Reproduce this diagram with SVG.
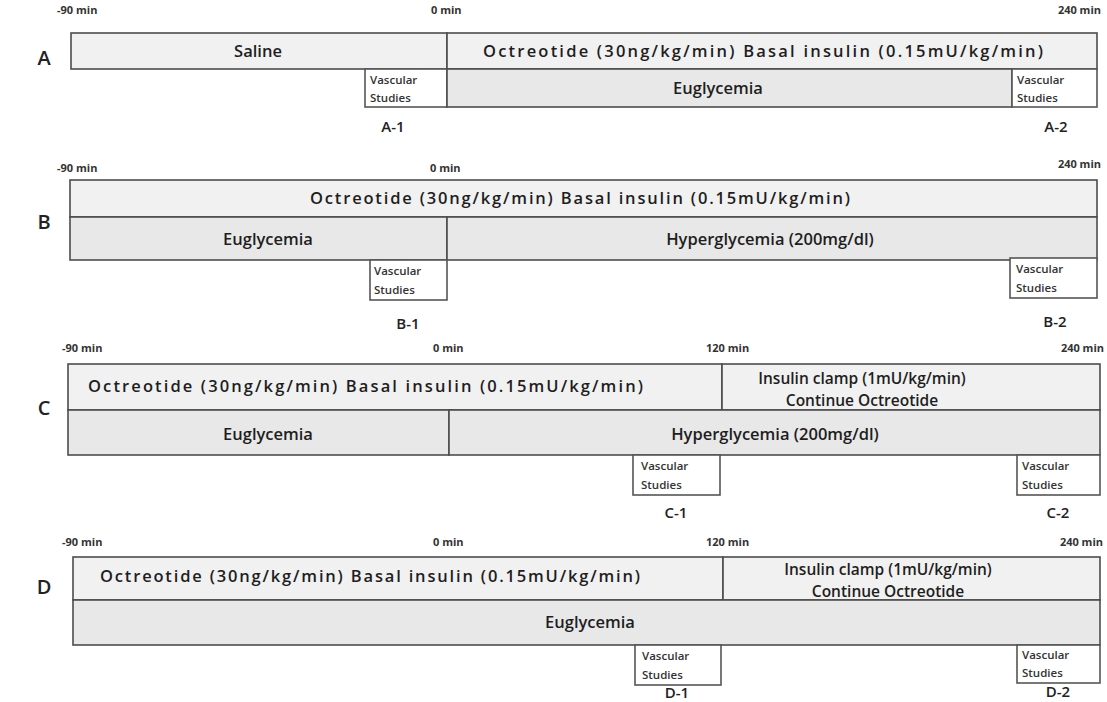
<svg xmlns="http://www.w3.org/2000/svg" width="1107" height="702" viewBox="0 0 1107 702">
<style>
.bg{fill:#ffffff}
.bar{fill:#f1f1f1;stroke:#4d4d4d;stroke-width:1.6}
.bar2{fill:#e8e8e8;stroke:#4d4d4d;stroke-width:1.6}
.vs{fill:#ffffff;stroke:#555555;stroke-width:1.6}
text{font-family:"Open Sans","Noto Sans","Liberation Sans",sans-serif;fill:#1e1e1e}
.tick{font-size:11px;font-weight:700;fill:#333}
.tickr{font-size:11px;font-weight:700;fill:#333;text-anchor:end}
.m{font-size:16.5px;font-weight:600;text-anchor:middle}
.c{font-size:15.5px;font-weight:600;text-anchor:middle}
.ml{font-size:16.5px;font-weight:600}
.v{font-size:11.5px;font-weight:600;fill:#333}
.id{font-size:15px;font-weight:600;text-anchor:middle;fill:#222}
.p{font-size:20px;font-weight:600;text-anchor:middle;fill:#222}
</style>
<rect class="bg" x="0" y="0" width="1107" height="702"/>

<!-- Panel A -->
<g id="panelA">
  <text class="p" x="44" y="65">A</text>
  <text class="tick" x="57" y="14">-90 min</text>
  <text class="tick" x="431" y="14">0 min</text>
  <text class="tickr" x="1101" y="14">240 min</text>
  <g id="A-saline">
    <rect class="bar" x="71" y="33" width="376" height="36"/>
    <text class="m" x="258" y="57">Saline</text>
  </g>
  <g id="A-octreotide">
    <rect class="bar" x="447" y="33" width="650" height="36"/>
    <text class="ml" x="483" y="57" textLength="560" lengthAdjust="spacing">Octreotide (30ng/kg/min)  Basal insulin (0.15mU/kg/min)</text>
  </g>
  <g id="A-vascular1">
    <rect class="vs" x="365" y="69" width="82" height="38"/>
    <text class="v" x="370" y="84">Vascular</text>
    <text class="v" x="370" y="102">Studies</text>
  </g>
  <g id="A-euglycemia">
    <rect class="bar2" x="447" y="69" width="565" height="38"/>
    <text class="m" x="718" y="94">Euglycemia</text>
  </g>
  <g id="A-vascular2">
    <rect class="vs" x="1012" y="69" width="85" height="38"/>
    <text class="v" x="1017" y="84">Vascular</text>
    <text class="v" x="1017" y="102">Studies</text>
  </g>
  <text class="id" x="393" y="132">A-1</text>
  <text class="id" x="1056" y="132">A-2</text>
</g>

<!-- Panel B -->
<g id="panelB">
  <text class="p" x="44" y="229">B</text>
  <text class="tick" x="57" y="172">-90 min</text>
  <text class="tick" x="430" y="172">0 min</text>
  <text class="tickr" x="1101" y="168">240 min</text>
  <g id="B-octreotide">
    <rect class="bar" x="70" y="180" width="1027" height="37"/>
    <text class="ml" x="310" y="204" textLength="540" lengthAdjust="spacing">Octreotide (30ng/kg/min)  Basal insulin (0.15mU/kg/min)</text>
  </g>
  <g id="B-euglycemia">
    <rect class="bar2" x="70" y="217" width="377" height="43"/>
    <text class="m" x="268" y="245">Euglycemia</text>
  </g>
  <g id="B-hyperglycemia">
    <rect class="bar2" x="447" y="217" width="650" height="43"/>
    <text class="m" x="770" y="245">Hyperglycemia (200mg/dl)</text>
  </g>
  <g id="B-vascular1">
    <rect class="vs" x="370" y="260" width="77" height="40"/>
    <text class="v" x="374" y="275">Vascular</text>
    <text class="v" x="374" y="294">Studies</text>
  </g>
  <g id="B-vascular2">
    <rect class="vs" x="1010" y="258" width="87" height="40"/>
    <text class="v" x="1016" y="273">Vascular</text>
    <text class="v" x="1016" y="292">Studies</text>
  </g>
  <text class="id" x="408" y="329">B-1</text>
  <text class="id" x="1055" y="327">B-2</text>
</g>

<!-- Panel C -->
<g id="panelC">
  <text class="p" x="44" y="415">C</text>
  <text class="tick" x="62" y="352">-90 min</text>
  <text class="tick" x="433" y="352">0 min</text>
  <text class="tick" x="706" y="352">120 min</text>
  <text class="tickr" x="1104" y="352">240 min</text>
  <g id="C-octreotide">
    <rect class="bar" x="68" y="364" width="654" height="46"/>
    <text class="ml" x="88" y="392" textLength="555" lengthAdjust="spacing">Octreotide (30ng/kg/min)  Basal insulin (0.15mU/kg/min)</text>
  </g>
  <g id="C-clamp">
    <rect class="bar" x="722" y="364" width="378" height="46"/>
    <text class="c" x="862" y="384">Insulin clamp (1mU/kg/min)</text>
    <text class="c" x="862" y="406">Continue Octreotide</text>
  </g>
  <g id="C-euglycemia">
    <rect class="bar2" x="68" y="410" width="381" height="45"/>
    <text class="m" x="268" y="440">Euglycemia</text>
  </g>
  <g id="C-hyperglycemia">
    <rect class="bar2" x="449" y="410" width="651" height="45"/>
    <text class="m" x="775" y="440">Hyperglycemia (200mg/dl)</text>
  </g>
  <g id="C-vascular1">
    <rect class="vs" x="633" y="455" width="87" height="40"/>
    <text class="v" x="641" y="470">Vascular</text>
    <text class="v" x="641" y="489">Studies</text>
  </g>
  <g id="C-vascular2">
    <rect class="vs" x="1017" y="455" width="83" height="40"/>
    <text class="v" x="1022" y="470">Vascular</text>
    <text class="v" x="1022" y="489">Studies</text>
  </g>
  <text class="id" x="676" y="518">C-1</text>
  <text class="id" x="1058" y="518">C-2</text>
</g>

<!-- Panel D -->
<g id="panelD">
  <text class="p" x="44" y="594">D</text>
  <text class="tick" x="62" y="546">-90 min</text>
  <text class="tick" x="433" y="546">0 min</text>
  <text class="tick" x="706" y="546">120 min</text>
  <text class="tickr" x="1103" y="546">240 min</text>
  <g id="D-octreotide">
    <rect class="bar" x="73" y="557" width="650" height="43"/>
    <text class="ml" x="100" y="582" textLength="540" lengthAdjust="spacing">Octreotide (30ng/kg/min)  Basal insulin (0.15mU/kg/min)</text>
  </g>
  <g id="D-clamp">
    <rect class="bar" x="723" y="557" width="377" height="43"/>
    <text class="c" x="888" y="575">Insulin clamp  (1mU/kg/min)</text>
    <text class="c" x="888" y="597">Continue Octreotide</text>
  </g>
  <g id="D-euglycemia">
    <rect class="bar2" x="73" y="600" width="1027" height="45"/>
    <text class="m" x="590" y="628">Euglycemia</text>
  </g>
  <g id="D-vascular1">
    <rect class="vs" x="635" y="645" width="86" height="40"/>
    <text class="v" x="642" y="660">Vascular</text>
    <text class="v" x="642" y="679">Studies</text>
  </g>
  <g id="D-vascular2">
    <rect class="vs" x="1017" y="645" width="83" height="38"/>
    <text class="v" x="1022" y="659">Vascular</text>
    <text class="v" x="1022" y="677">Studies</text>
  </g>
  <text class="id" x="677" y="698">D-1</text>
  <text class="id" x="1058" y="697">D-2</text>
</g>
</svg>
